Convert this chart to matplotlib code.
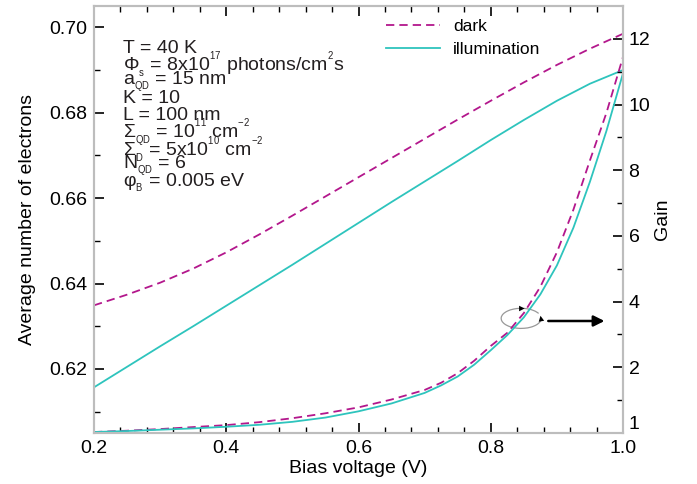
import numpy as np
import matplotlib
matplotlib.use('Agg')
import matplotlib.pyplot as plt
from matplotlib.patches import Arc
from matplotlib.ticker import MultipleLocator, FixedLocator

plt.rcParams['font.family'] = ['Liberation Sans', 'DejaVu Sans']
plt.rcParams['mathtext.fontset'] = 'custom'
plt.rcParams['mathtext.rm'] = 'Liberation Sans'
plt.rcParams['mathtext.it'] = 'Liberation Sans:italic'
plt.rcParams['mathtext.bf'] = 'Liberation Sans:bold'

# 平均电子数（左轴）
bias_n = [0.20, 0.25, 0.30, 0.35, 0.40, 0.45, 0.50, 0.55, 0.60,
          0.65, 0.70, 0.75, 0.80, 0.85, 0.90, 0.95, 1.00]
n_dark = [0.6349, 0.6374, 0.6402, 0.6435, 0.6473, 0.6515, 0.6559, 0.6604, 0.6649,
          0.6694, 0.6739, 0.6784, 0.6828, 0.6871, 0.6912, 0.6950, 0.6985]
n_illum = [0.6157, 0.6205, 0.6253, 0.6300, 0.6348, 0.6396, 0.6444, 0.6493, 0.6542,
           0.6591, 0.6639, 0.6687, 0.6736, 0.6783, 0.6828, 0.6868, 0.6900]

# 增益（右轴）
bias_g = [0.20, 0.25, 0.30, 0.35, 0.40, 0.45, 0.50, 0.55, 0.60, 0.65, 0.70,
          0.725, 0.75, 0.775, 0.80, 0.825, 0.85, 0.875, 0.90, 0.925, 0.95, 0.975, 1.00]
gain_dark = [0.03, 0.07, 0.12, 0.18, 0.24, 0.33, 0.45, 0.60, 0.78, 1.02, 1.31,
             1.53, 1.82, 2.20, 2.65, 3.05, 3.65, 4.45, 5.50, 6.80, 8.30, 9.75, 11.45]
gain_illum = [0.03, 0.06, 0.10, 0.14, 0.19, 0.25, 0.34, 0.47, 0.66, 0.90, 1.22,
              1.45, 1.72, 2.08, 2.52, 2.98, 3.52, 4.22, 5.10, 6.25, 7.65, 9.20, 10.95]

gain_ticks = [0, 2, 4, 6, 8, 10, 12]
gain_ticklabels = ['1', '2', '4', '6', '8', '10', '12']

params = [
    'T = 40 K',
    r'Φ$_{_\mathregular{s}}$ = 8x10$^{^\mathregular{17}}$ photons/cm$^{^\mathregular{2}}$s',
    r'a$_{_\mathregular{QD}}$ = 15 nm',
    'K = 10',
    'L = 100 nm',
    r'Σ$_{_\mathregular{QD}}$ = 10$^{^\mathregular{11}}$ cm$^{^\mathregular{-2}}$',
    r'Σ$_{_\mathregular{D}}$ = 5x10$^{^\mathregular{10}}$ cm$^{^\mathregular{-2}}$',
    r'N$_{_\mathregular{QD}}$ = 6',
    r'φ$_{_\mathregular{B}}$ = 0.005 eV',
]

c_dark = '#b3178c'
c_illum = '#2ec4bd'
frame = '#bdbdbd'
fs = 14
dash = (0, (4.6, 2.8))

fig = plt.figure(figsize=(6.97, 4.84), dpi=100)
ax = fig.add_axes([94/697, 51/484, 529/697, 427/484])
ax2 = ax.twinx()

ax.plot(bias_n, n_dark, color=c_dark, lw=1.3, ls=dash, label='dark')
ax.plot(bias_n, n_illum, color=c_illum, lw=1.3, label='illumination')
ax2.plot(bias_g, gain_dark, color=c_dark, lw=1.3, ls=dash)
ax2.plot(bias_g, gain_illum, color=c_illum, lw=1.3)

ax.set_xlim(0.2, 1.0)
ax.set_ylim(0.605, 0.705)
ax2.set_ylim(0, 13.0)

ax.xaxis.set_major_locator(MultipleLocator(0.2))
ax.xaxis.set_minor_locator(MultipleLocator(0.04))
ax.set_xticklabels([f'{v:.1f}' for v in ax.get_xticks()])
ax.set_yticks([0.62, 0.64, 0.66, 0.68, 0.70])
ax.set_yticklabels(['0.62', '0.64', '0.66', '0.68', '0.70'])
ax.yaxis.set_minor_locator(FixedLocator([0.61, 0.63, 0.65, 0.67, 0.69]))

ax2.set_yticks(gain_ticks)
ax2.set_yticklabels(gain_ticklabels)
ax2.yaxis.set_minor_locator(FixedLocator([1, 3, 5, 7, 9, 11]))

ax.tick_params(axis='both', which='both', direction='in', labelsize=fs, color='black')
ax.tick_params(axis='x', which='both', top=True)
ax.tick_params(which='major', length=7, width=1.2, pad=5)
ax.tick_params(which='minor', length=4, width=1.0)
ax2.tick_params(axis='y', which='both', direction='in', labelsize=fs)
ax2.tick_params(which='major', length=7, width=1.2, pad=4)
ax2.tick_params(which='minor', length=4, width=1.0)
ax2.get_yticklabels()[0].set_va('bottom')

for a in (ax, ax2):
    for s in a.spines.values():
        s.set_color(frame)
        s.set_linewidth(1.5)

ax.set_xlabel('Bias voltage (V)', fontsize=fs, labelpad=2)
ax.set_ylabel('Average number of electrons', fontsize=fs, labelpad=9)
ax2.set_ylabel('Gain', fontsize=fs, labelpad=3)

# 参数文本
y0 = 0.9016
for i, t in enumerate(params):
    ax.text(0.054, y0 - i * 0.0395, t, transform=ax.transAxes, fontsize=fs,
            va='center', ha='left', color='#231f20')

ax.legend(loc='upper left', bbox_to_anchor=(0.552, 0.969), frameon=False,
          fontsize=12.5, handlelength=3.1, handletextpad=0.75, labelspacing=0.45,
          borderaxespad=0, borderpad=0)

# 旋转箭头和指向右轴的箭头
cx, cy = 0.846, 3.49
a_w, b_h = 0.0605, 0.61
arc = Arc((cx, cy), a_w, b_h, theta1=80, theta2=375, color='#999999', lw=0.9)
ax2.add_patch(arc)

def ell(t):
    t = np.deg2rad(t)
    return cx + a_w / 2 * np.cos(t), cy + b_h / 2 * np.sin(t)

for t_from, t_to in [(100, 80), (355, 375)]:
    ax2.annotate('', xy=ell(t_to), xytext=ell(t_from),
                 arrowprops=dict(arrowstyle='-|>', color='black', lw=0,
                                 mutation_scale=10, shrinkA=0, shrinkB=0))

ax2.annotate('', xy=(0.972, 3.41), xytext=(0.887, 3.41),
             arrowprops=dict(arrowstyle='-|>', color='black', lw=1.8,
                             mutation_scale=16, shrinkA=0, shrinkB=0))

fig.savefig('out.png', dpi=100)
